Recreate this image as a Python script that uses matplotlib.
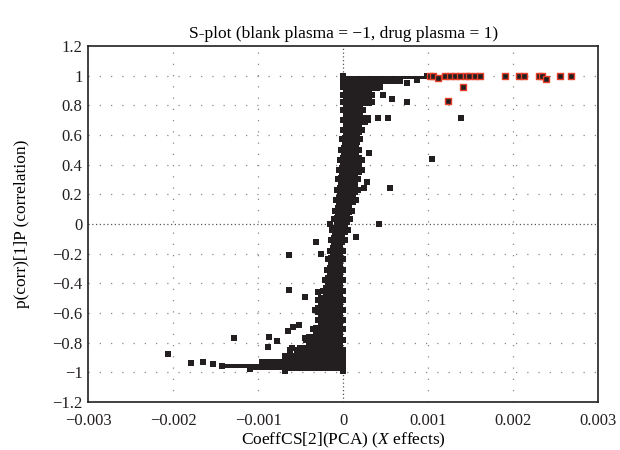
import numpy as np
import matplotlib
matplotlib.use("Agg")
import matplotlib.pyplot as plt

plt.rcParams['font.family'] = ['Liberation Serif', 'DejaVu Serif']
plt.rcParams['mathtext.fontset'] = 'custom'
plt.rcParams['mathtext.rm'] = 'Liberation Serif'
plt.rcParams['mathtext.it'] = 'Liberation Serif:italic'

# dense core of the S-plot: left/right edge (x in 1e-3 units) per correlation level
core_y = [1.0, 0.96, 0.92, 0.87, 0.82, 0.77, 0.70, 0.63, 0.57, 0.50, 0.43, 0.36,
          0.30, 0.23, 0.16, 0.09, 0.03, -0.04, -0.11, -0.18, -0.24, -0.31, -0.38,
          -0.45, -0.51, -0.58, -0.65, -0.71, -0.78, -0.85, -0.89, -0.93, -0.96,
          -0.98, -0.995]
core_left = [0.0, 0.0, 0.0, 0.0, 0.0, 0.0, 0.0, 0.0, -0.012, -0.024, -0.035, -0.047,
             -0.059, -0.071, -0.082, -0.094, -0.106, -0.129, -0.141, -0.153, -0.176,
             -0.188, -0.212, -0.235, -0.294, -0.329, -0.294, -0.353, -0.435, -0.541,
             -0.682, -0.953, -1.42, -1.09, -0.68]
core_right = [0.988, 0.671, 0.435, 0.341, 0.341, 0.235, 0.294, 0.224, 0.200, 0.188,
              0.224, 0.224, 0.176, 0.176, 0.153, 0.106, 0.082, 0.059, 0.024, 0.0, 0.0,
              0.0, 0.0, 0.0, 0.0, 0.0, 0.0, 0.0, 0.0, 0.0, 0.0, 0.0, 0.0, 0.0, 0.0]

# scattered variables (x in 1e-3 units)
pts_x = [0.75, 0.87, 0.47, 0.58, 0.75, 0.29, 0.41, 0.53, 1.38, 1.05, 0.30, 0.28,
         0.25, 0.55, 0.42, 0.15, -0.16, -0.32,
         -0.64, -0.26, -0.64, -0.45, -0.30, -0.52, -0.59, -0.65, -0.87, -0.78,
         -0.88, -0.45, -0.60, -1.28, -0.62, -2.06, -1.79, -1.65, -1.53]
pts_y = [0.95, 0.97, 0.87, 0.84, 0.82, 0.715, 0.715, 0.715, 0.715, 0.44, 0.48, 0.28,
         0.24, 0.24, 0.0, -0.09, 0.0, -0.12,
         -0.21, -0.20, -0.445, -0.49, -0.46, -0.68, -0.695, -0.72, -0.76, -0.79,
         -0.83, -0.77, -0.84, -0.77, -0.85, -0.88, -0.94, -0.93, -0.945]

# selected (highlighted) variables
sel_x = [1.02, 1.06, 1.11, 1.20, 1.26, 1.31, 1.37, 1.44, 1.48, 1.55, 1.61, 1.90,
         2.07, 2.13, 2.30, 2.34, 2.39, 2.55, 2.68, 1.41, 1.23]
sel_y = [1.0, 1.0, 0.985, 1.0, 1.0, 1.0, 1.0, 1.0, 1.0, 1.0, 1.0, 1.0,
         1.0, 1.0, 1.0, 1.0, 0.98, 1.0, 1.0, 0.925, 0.83]

xticks = [-0.003, -0.002, -0.001, 0, 0.001, 0.002, 0.003]
xtick_labels = ['\u22120.003', '\u22120.002', '\u22120.001', '0', '0.001', '0.002', '0.003']
yticks = [1.2, 1.0, 0.8, 0.6, 0.4, 0.2, 0, -0.2, -0.4, -0.6, -0.8, -1.0, -1.2]
ytick_labels = ['1.2', '1', '0.8', '0.6', '0.4', '0.2', '0', '\u22120.2', '\u22120.4',
                '\u22120.6', '\u22120.8', '\u22121', '\u22121.2']

dark = '#231f20'
red = '#e8402a'
k = 1e-3

fig = plt.figure(figsize=(6.2, 4.5), dpi=100)
ax = fig.add_axes([0.142, 0.107, 0.823, 0.791])

# grid
for t in xticks[1:-1]:
    if t == 0:
        ax.axvline(t, color='#555555', lw=0.9, ls=(0, (1, 2)), zorder=1)
    else:
        ax.axvline(t, color='#888888', lw=0.9, ls=(0, (1, 8)), zorder=1)
for t in yticks[1:-1]:
    if t == 0:
        ax.axhline(t, color='#555555', lw=0.9, ls=(0, (1, 2)), zorder=1)
    else:
        ax.axhline(t, color='#888888', lw=0.9, ls=(0, (1, 8)), zorder=1)

cl = np.array(core_left) * k
cr = np.array(core_right) * k
ax.fill_betweenx(core_y, cl, cr, step='mid', color=dark, lw=0, zorder=2)
ax.scatter(cl, core_y, marker='s', s=18, color=dark, lw=0, zorder=3)
ax.scatter(cr, core_y, marker='s', s=18, color=dark, lw=0, zorder=3)
ax.scatter(np.array(pts_x) * k, pts_y, marker='s', s=18, color=dark, lw=0, zorder=3)
ax.scatter(np.array(sel_x) * k, sel_y, marker='s', s=22, facecolor=dark,
           edgecolor=red, lw=1.0, zorder=4)

ax.set_xlim(-0.003, 0.003)
ax.set_ylim(-1.2, 1.2)
ax.set_xticks(xticks)
ax.set_xticklabels(xtick_labels)
ax.set_yticks(yticks)
ax.set_yticklabels(ytick_labels)
ax.tick_params(length=0, labelsize=12, colors='#231f20')
ax.tick_params(axis='x', pad=8)
ax.tick_params(axis='y', pad=4)
for s in ax.spines.values():
    s.set_linewidth(1.2)
    s.set_color('#231f20')

ax.set_title('S-plot (blank plasma = \u22121, drug plasma = 1)', fontsize=12.5, pad=6)
ax.set_xlabel(r'CoeffCS[2](PCA) ($X$ effects)', fontsize=12.5, labelpad=1)
ax.set_ylabel('p(corr)[1]P (correlation)', fontsize=12.5, labelpad=16)

fig.savefig('out.png', dpi=100)
